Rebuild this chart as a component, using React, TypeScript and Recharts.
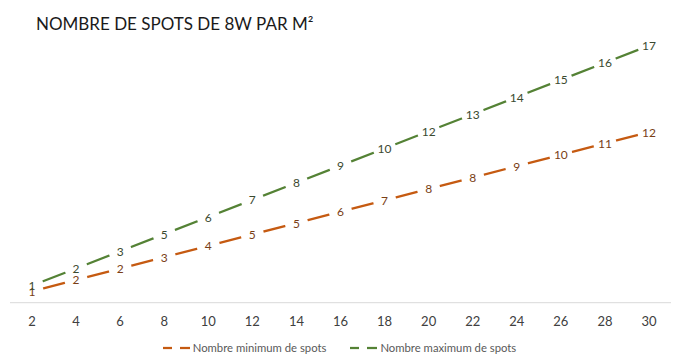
import React from 'react';
import { LineChart, Line, XAxis, YAxis, LabelList } from 'recharts';

const categories = ['2', '4', '6', '8', '10', '12', '14', '16', '18', '20', '22', '24', '26', '28', '30'];
const minSpots = [0.77, 1.54, 2.31, 3.08, 3.85, 4.62, 5.39, 6.16, 6.93, 7.7, 8.47, 9.24, 10.01, 10.78, 11.55];
const maxSpots = [1.16, 2.32, 3.48, 4.64, 5.8, 6.96, 8.12, 9.28, 10.44, 11.6, 12.76, 13.92, 15.08, 16.24, 17.4];
const minLabels = [1, 2, 2, 3, 4, 5, 5, 6, 7, 8, 8, 9, 10, 11, 12];
const maxLabels = [1, 2, 3, 5, 6, 7, 8, 9, 10, 12, 13, 14, 15, 16, 17];
const seriesNames = ['Nombre minimum de spots', 'Nombre maximum de spots'];
const title = 'NOMBRE DE SPOTS DE 8W PAR M²';

const data = categories.map((c, i) => ({
  area: c,
  min: minSpots[i],
  max: maxSpots[i],
  minLabel: minLabels[i],
  maxLabel: maxLabels[i],
}));

const ORANGE = '#C55A11';
const GREEN = '#548235';
const FONT = 'Lato, "Open Sans", sans-serif';

const makeMask = (angle: number) => (props: any) => {
  const { cx, cy, index } = props;
  if (cx == null || cy == null) return <g key={`m${index}`} />;
  return (
    <rect
      key={`m${index}`}
      x={cx - 11.5}
      y={cy - 3.5}
      width={23}
      height={7}
      fill="#fff"
      transform={`rotate(${angle} ${cx} ${cy})`}
    />
  );
};

const makeLabel = (color: string) => (props: any) => {
  const x = props.x ?? props.viewBox?.x;
  const y = props.y ?? props.viewBox?.y;
  return (
    <text
      x={x}
      y={y}
      textAnchor="middle"
      dominantBaseline="central"
      fontSize={12}
      fontFamily={FONT}
      fill={color}
    >
      {props.value}
    </text>
  );
};

const LegendIcon = ({ color }: { color: string }) => (
  <svg width={30} height={10} style={{ display: 'block' }}>
    <line x1={0} y1={5} x2={9} y2={5} stroke={color} strokeWidth={2.25} />
    <line x1={17} y1={5} x2={27} y2={5} stroke={color} strokeWidth={2.25} />
  </svg>
);

export default function App() {
  return (
    <div style={{ position: 'absolute', left: 0, top: 0, width: 679, height: 364, background: '#fff' }}>
      <div
        style={{
          position: 'absolute',
          left: 36,
          top: 13,
          fontFamily: FONT,
          fontSize: 17,
          color: '#1a1a1a',
          whiteSpace: 'nowrap',
        }}
      >
        {title}
      </div>
      <LineChart
        width={679}
        height={364}
        data={data}
        margin={{ top: 22, right: 8, left: 10, bottom: 31.3 }}
      >
        <XAxis
          dataKey="area"
          height={30}
          padding={{ left: 22, right: 22 }}
          axisLine={{ stroke: '#D9D9D9', strokeWidth: 1 }}
          tickLine={false}
          tickMargin={8}
          interval={0}
          tick={{ fontSize: 13, fill: '#404040', fontFamily: FONT }}
        />
        <YAxis hide domain={[0, 19]} />
        <Line
          dataKey="min"
          name={seriesNames[0]}
          stroke={ORANGE}
          strokeWidth={2.25}
          dot={makeMask(-14.6)}
          activeDot={false}
          isAnimationActive={false}
        >
          <LabelList dataKey="minLabel" content={makeLabel('#7A3E16')} />
        </Line>
        <Line
          dataKey="max"
          name={seriesNames[1]}
          stroke={GREEN}
          strokeWidth={2.25}
          dot={makeMask(-21.3)}
          activeDot={false}
          isAnimationActive={false}
        >
          <LabelList dataKey="maxLabel" content={makeLabel('#3B4A30')} />
        </Line>
      </LineChart>
      <div
        style={{
          position: 'absolute',
          left: 0,
          top: 341,
          width: 679,
          display: 'flex',
          justifyContent: 'center',
          gap: 24,
          fontFamily: FONT,
          fontSize: 11.3,
          color: '#595959',
        }}
      >
        <div style={{ display: 'flex', alignItems: 'center' }}>
          <LegendIcon color={ORANGE} />
          <span>{seriesNames[0]}</span>
        </div>
        <div style={{ display: 'flex', alignItems: 'center' }}>
          <LegendIcon color={GREEN} />
          <span>{seriesNames[1]}</span>
        </div>
      </div>
    </div>
  );
}
